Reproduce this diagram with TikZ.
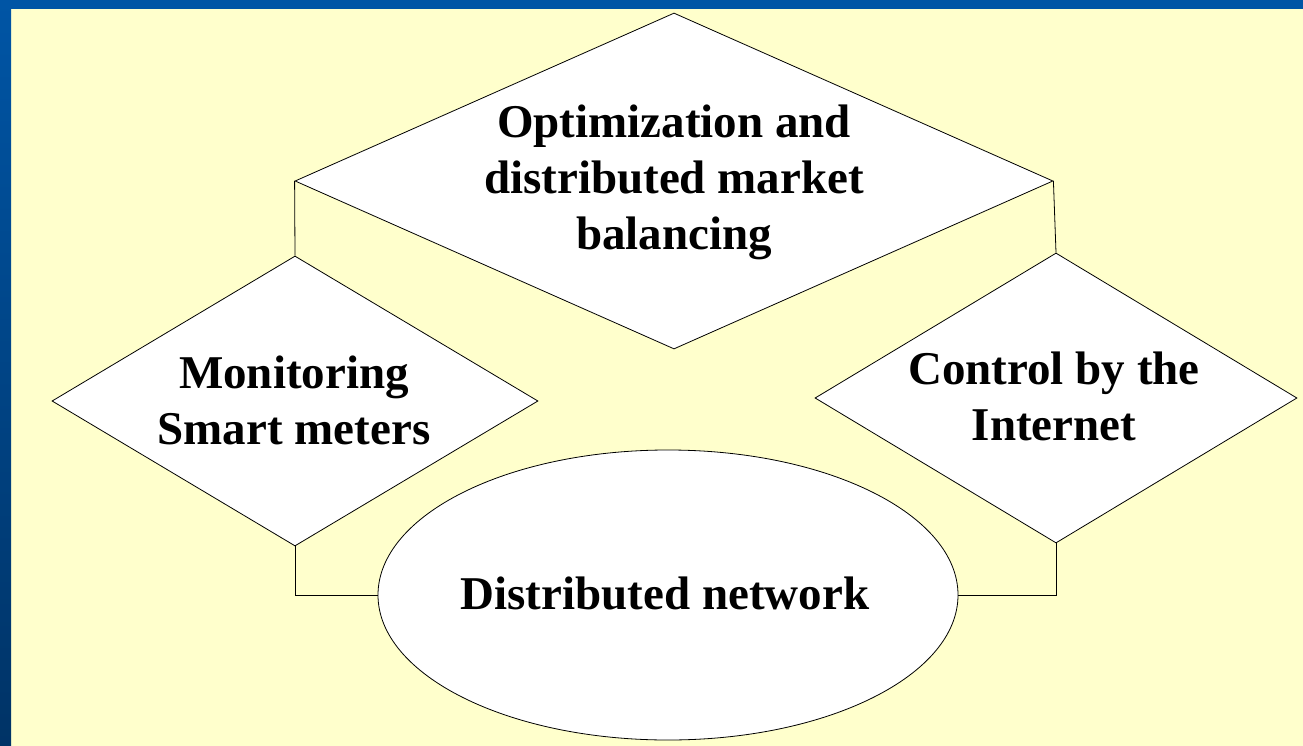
\documentclass[tikz,border=0pt]{standalone}
\usepackage{fontspec}
\setmainfont{Liberation Serif}
\usetikzlibrary{shapes.geometric}

\definecolor{slidebg}{HTML}{FFFFCC}
\definecolor{slideblue}{HTML}{0055A5}
\definecolor{slidedark}{HTML}{003366}

\begin{document}
\begin{tikzpicture}[
            x = 1pt, y = -1pt, % one unit per pixel, y downwards
            line width = 0.8pt, % line style
            font = \bfseries\fontsize{47}{56}\selectfont
        ]

        \tikzstyle{diam}=[
            diamond,
            draw = black,
            fill = white,
            inner sep = 0pt
        ]
        \tikzstyle{oval}=[
            ellipse,
            draw = black,
            fill = white,
            inner sep = 0pt
        ]
        \tikzstyle{txt}=[
            align = center,
            inner sep = 0pt
        ]

        % slide background
        \fill[slidebg] (0, 0) rectangle (1303, 746);
        \shade[top color = slideblue, bottom color = slidedark] (0, 0) rectangle (11, 746);
        \fill[slideblue] (0, 0) rectangle (1303, 9);
        \useasboundingbox (0, 0) rectangle (1303, 746);

        \node[diam, minimum width = 758pt, minimum height = 336pt] (opt) at (674, 181) {};
        \node[diam, minimum width = 486pt, minimum height = 290pt] (mon) at (295, 401) {};
        \node[diam, minimum width = 482pt, minimum height = 290pt] (ctl) at (1056, 398) {};
        \node[oval, minimum width = 580pt, minimum height = 290pt] (net) at (668, 595) {};

        \node[txt] (opt-t) at (674, 182) {Optimization and\\distributed market\\balancing};
        \node[txt] (mon-t) at (294, 400) {Monitoring\\Smart meters};
        \node[txt] (ctl-t) at (1054, 396) {Control by the\\Internet};
        \node[txt] (net-t) at (665, 593) {Distributed network};

        \draw (opt.west) -- (mon.north);
        \draw (opt.east) -- (ctl.north);
        \draw (mon.south) |- (net.west);
        \draw (ctl.south) |- (net.east);

    \end{tikzpicture}
\end{document}
